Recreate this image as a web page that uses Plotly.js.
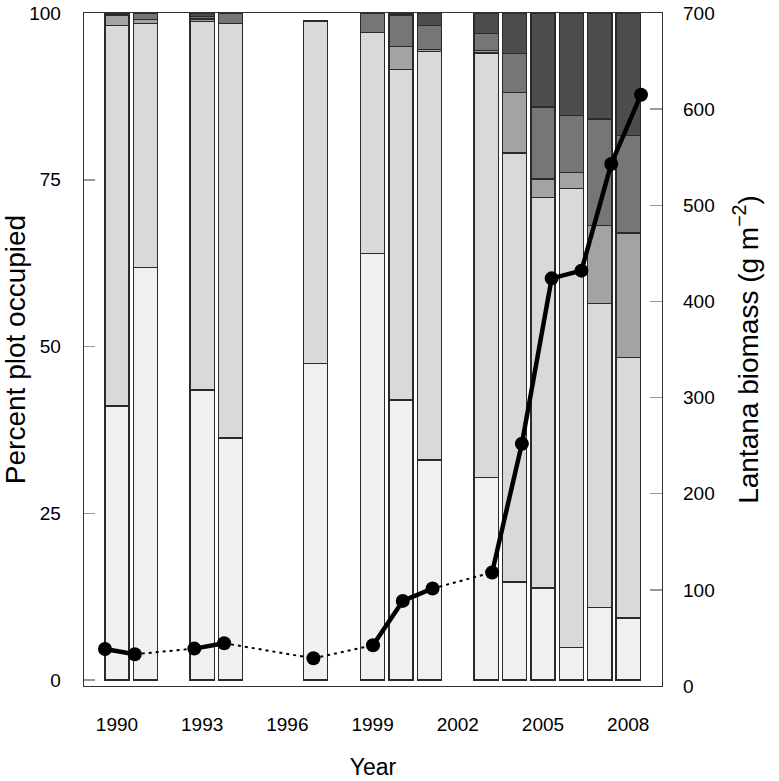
<!DOCTYPE html>
<html>
<head>
<meta charset="utf-8">
<script src="https://cdn.plot.ly/plotly-3.0.1.min.js"></script>
<style>html,body{margin:0;padding:0;background:#fff;}#chart{width:779px;height:781px;}</style>
</head>
<body>
<div id="chart"></div>
<script>
const years = [1990,1991,1993,1994,1997,1999,2000,2001,2003,2004,2005,2006,2007,2008];
const cat1 = [41.1,61.8,43.5,36.3,47.5,63.9,42.0,33.0,30.4,14.7,13.8,4.9,10.9,9.3];
const cat2 = [57.0,36.6,55.2,62.1,51.3,33.2,49.5,61.2,63.6,64.3,58.5,68.8,45.5,39.0];
const cat3 = [1.6,0.6,0.4,0,0,0,3.45,0.3,0.4,9.1,2.8,2.4,11.7,18.7];
const cat4 = [0,0.9,0.4,1.6,0,2.9,4.75,3.6,2.5,5.8,10.8,8.5,16.0,14.6];
const cat5 = [0.3,0.1,0.5,0,0,0,0.3,1.9,3.1,6.1,14.1,15.4,15.9,18.4];
const biomass = [38.5,33.0,38.9,44.5,28.8,42.4,88.5,101.4,118.1,252,424,432,543,615];
const xTicks = [1990,1993,1996,1999,2002,2005,2008];
const yTicks = [0,25,50,75,100];
const y2Ticks = [0,100,200,300,400,500,600,700];

const series = [cat1,cat2,cat3,cat4,cat5];
const colors = ['#f0f0f0','#d9d9d9','#a3a3a3','#767676','#4d4d4d'];
const traces = [];
series.forEach((s,i)=>{
  traces.push({type:'bar', x:years, y:s.map(v=>v===0?null:v), width:0.85,
    marker:{color:colors[i], line:{color:'#2a2a2a', width:1.3}},
    xaxis:'x', yaxis:'y', hoverinfo:'skip'});
});
for(let i=0;i<years.length-1;i++){
  const thick = (years[i+1]-years[i])===1;
  traces.push({type:'scatter', mode:'lines', x:[years[i],years[i+1]], y:[biomass[i],biomass[i+1]],
    line:{color:'#000', width: thick?4.5:2, dash: thick?'solid':'3px,4px'},
    xaxis:'x2', yaxis:'y2', hoverinfo:'skip'});
}
traces.push({type:'scatter', mode:'markers', x:years, y:biomass,
  marker:{color:'#000', size:14}, xaxis:'x2', yaxis:'y2', hoverinfo:'skip'});

const font = {family:'"Liberation Sans", Arial, sans-serif', color:'#000'};
const layout = {
  width:779, height:781, showlegend:false, barmode:'stack', bargap:0,
  paper_bgcolor:'#fff', plot_bgcolor:'#fff', font:font,
  margin:{l:84, r:117, t:13, b:95},
  xaxis:{range:[1988.84,2009.19], tickvals:xTicks, ticktext:xTicks.map(String), ticks:'',
    showgrid:false, zeroline:false, showline:true, mirror:true, linecolor:'#333', linewidth:1.3,
    tickfont:{size:19}, ticklabelstandoff:21,
    title:{text:'Year', font:{size:23}, standoff:24}},
  xaxis2:{range:[1989.295,2008.705], overlaying:'x', visible:false},
  yaxis:{range:[-0.9,100], tickvals:yTicks, ticks:'inside', ticklen:11, tickcolor:'#999', tickwidth:1.5,
    showgrid:false, zeroline:false, showline:true, mirror:true, linecolor:'#333', linewidth:1.3,
    tickfont:{size:19}, ticklabelstandoff:18,
    title:{text:'Percent plot occupied', font:{size:28}, standoff:4}},
  yaxis2:{range:[0,700], overlaying:'y', side:'right', tickvals:y2Ticks, ticks:'inside', ticklen:12,
    tickcolor:'#999', tickwidth:1.5, showgrid:false, zeroline:false, showline:false,
    tickfont:{size:19}, ticklabelstandoff:20,
    title:{text:'Lantana biomass (g m<sup>\u22122</sup>)', font:{size:28}, standoff:24}}
};
Plotly.newPlot('chart', traces, layout, {staticPlot:true});
</script>
</body>
</html>
